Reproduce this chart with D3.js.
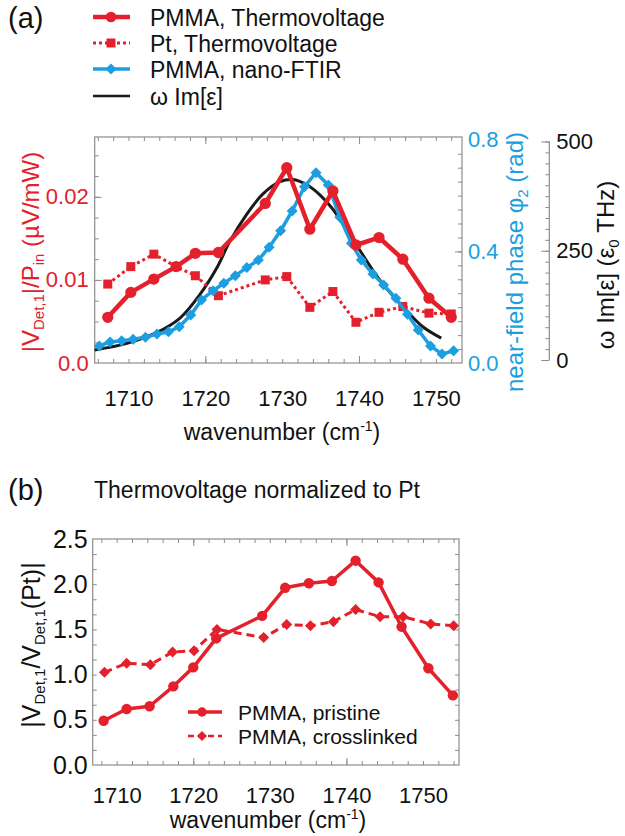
<!DOCTYPE html>
<html>
<head>
<meta charset="utf-8">
<script src="https://cdn.jsdelivr.net/npm/d3@7"></script>
<style>
  body { margin: 0; background: #fff; }
  svg { display: block; font-family: "Liberation Sans", Arial, sans-serif; }
</style>
</head>
<body>
<script>
// ---- panel (a) data ----
const wnTV = [1707.3, 1710.3, 1713.3, 1716.2, 1718.7, 1721.7, 1727.8, 1730.6, 1733.6, 1736.6, 1739.6, 1742.6, 1745.7, 1749.1, 1752.0];
const pmmaTV = [0.0055, 0.0085, 0.0101, 0.0116, 0.0132, 0.0133, 0.0192, 0.0235, 0.0161, 0.0207, 0.0142, 0.0151, 0.0125, 0.0078, 0.0055];
const ptTV = [0.0095, 0.0116, 0.0131, 0.0116, 0.0105, 0.0081, 0.0100, 0.0104, 0.0067, 0.0086, 0.0049, 0.0061, 0.0068, 0.0060, 0.0059];

const wnFTIR = [1706.2, 1707.6, 1709.1, 1710.6, 1712.2, 1713.7, 1715.2, 1716.6, 1718.1, 1719.5, 1721.0, 1722.4, 1723.9, 1725.4, 1726.9, 1728.3,
                1729.8, 1731.3, 1732.9, 1734.4, 1736.0, 1737.5, 1739.0, 1740.3, 1741.8, 1743.2, 1744.8, 1746.3, 1747.7, 1749.3, 1750.8, 1752.3];
const phaseFTIR = [0.061, 0.075, 0.080, 0.085, 0.092, 0.104, 0.112, 0.130, 0.172, 0.226, 0.259, 0.286, 0.313, 0.342, 0.369, 0.415,
                   0.474, 0.545, 0.632, 0.682, 0.638, 0.522, 0.429, 0.369, 0.319, 0.280, 0.232, 0.175, 0.118, 0.061, 0.032, 0.044];

const wnEps = [1705.6, 1709.8, 1713.7, 1716.7, 1719.3, 1721.5, 1723.2, 1725.4, 1727.5, 1729.7, 1731.4, 1733.2, 1734.9, 1736.6, 1739.7, 1742.7, 1745.7, 1748.3, 1750.7];
const omegaImEps = [23, 38, 63, 96, 150, 211, 272, 334, 380, 408, 413, 401, 378, 345, 262, 183, 122, 76, 50];

// ---- panel (b) data ----
const wnPristine = [1708.3, 1711.3, 1714.3, 1717.4, 1720.0, 1723.0, 1729.0, 1732.0, 1735.1, 1738.1, 1741.2, 1744.2, 1747.2, 1750.7, 1753.9];
const pristine = [0.49, 0.62, 0.65, 0.87, 1.08, 1.40, 1.65, 1.96, 2.01, 2.035, 2.26, 2.02, 1.53, 1.07, 0.77];
const wnCross = [1708.4, 1711.3, 1714.4, 1717.3, 1720.1, 1723.1, 1729.2, 1732.2, 1735.3, 1738.3, 1741.2, 1744.4, 1747.4, 1751.0, 1754.0];
const crosslinked = [1.025, 1.125, 1.11, 1.25, 1.265, 1.50, 1.41, 1.555, 1.54, 1.585, 1.72, 1.64, 1.64, 1.56, 1.54];

// tick labels
const xTickLabels = [1710, 1720, 1730, 1740, 1750];
const leftTicksA = [0, 0.01, 0.02];
const phaseTicks = [0, 0.4, 0.8];
const epsTicks = [0, 250, 500];
const ratioTicks = [0, 0.5, 1.0, 1.5, 2.0, 2.5];

const RED = "#e3202b", BLUE = "#1c9ee0", FRAME = "#8c8c8c";

const svg = d3.select("body").append("svg")
    .attr("width", 625)
    .attr("height", 836);

svg.append("rect").attr("width", 625).attr("height", 836).attr("fill", "#fff");

// inward tick marks (no labels)
function tickMarks(g, axisFn, scale, values, size) {
    g.call(axisFn(scale).tickValues(values).tickSize(size).tickFormat(""));
    g.select(".domain").remove();
    g.selectAll("line").attr("stroke", FRAME).attr("stroke-width", 1);
}

// labels only
function tickLabels(g, axisFn, scale, values, pad, fmt, color, size) {
    g.call(axisFn(scale).tickValues(values).tickSize(0).tickPadding(pad).tickFormat(fmt));
    g.select(".domain").remove();
    g.attr("font-family", null).attr("font-size", size);
    g.selectAll("text").attr("fill", color);
}

function diamond(r) {
    return `M0,${-r}L${r},0L0,${r}L${-r},0Z`;
}

function drawMarkers(g, xs, ys, x, y, shape, color) {
    g.append("g").selectAll("path")
        .data(xs.map((d, i) => [d, ys[i]]))
        .enter().append("path")
        .attr("transform", d => `translate(${x(d[0])},${y(d[1])})`)
        .attr("d", shape)
        .attr("fill", color);
}

// ================= panel (a) =================
const A = { left: 94.7, right: 462, top: 137, bottom: 363 };
const xA = d3.scaleLinear().domain([1705.6, 1753.4]).range([A.left, A.right]);
const yTV = d3.scaleLinear().domain([0, 0.0272]).range([A.bottom, A.top]);
const yPhase = d3.scaleLinear().domain([0, 0.81]).range([A.bottom, A.top]);
const yEps = d3.scaleLinear().domain([0, 500]).range([360, 141.5]);

const xMinor = d3.range(1706, 1754, 2);
const xMajor = [1720, 1740];

const gA = svg.append("g");

// frame
gA.append("rect")
    .attr("x", A.left).attr("y", A.top)
    .attr("width", A.right - A.left).attr("height", A.bottom - A.top)
    .attr("fill", "none").attr("stroke", FRAME).attr("stroke-width", 1.2);

tickMarks(gA.append("g").attr("transform", `translate(0,${A.bottom})`), d3.axisBottom, xA, xMinor.filter(d => xA(d) > A.left + 2 && xA(d) < A.right - 2), -4);
tickMarks(gA.append("g").attr("transform", `translate(0,${A.bottom})`), d3.axisBottom, xA, xMajor, -7);
tickMarks(gA.append("g").attr("transform", `translate(0,${A.top})`), d3.axisTop, xA, xMinor.filter(d => xA(d) > A.left + 2 && xA(d) < A.right - 2), -4);
tickMarks(gA.append("g").attr("transform", `translate(0,${A.top})`), d3.axisTop, xA, xMajor, -7);
tickMarks(gA.append("g").attr("transform", `translate(${A.left},0)`), d3.axisLeft, yTV, d3.range(0.0025, 0.027, 0.0025), -4);
tickMarks(gA.append("g").attr("transform", `translate(${A.left},0)`), d3.axisLeft, yTV, [0.01, 0.02], -7);
tickMarks(gA.append("g").attr("transform", `translate(${A.right},0)`), d3.axisRight, yPhase, d3.range(0.05, 0.80, 0.05), -4);
tickMarks(gA.append("g").attr("transform", `translate(${A.right},0)`), d3.axisRight, yPhase, [0.4], -7);

// black ω Im[ε] axis
gA.append("line")
    .attr("x1", 549.3).attr("x2", 549.3)
    .attr("y1", yEps(0)).attr("y2", yEps(500))
    .attr("stroke", FRAME).attr("stroke-width", 1.2);
tickMarks(gA.append("g").attr("transform", "translate(549.3,0)"), d3.axisLeft, yEps, d3.range(0, 501, 25), 4);
tickMarks(gA.append("g").attr("transform", "translate(549.3,0)"), d3.axisLeft, yEps, [0, 250, 500], 8);

// tick labels
tickLabels(gA.append("g").attr("transform", `translate(0,${A.bottom})`), d3.axisBottom, xA, xTickLabels, 27, d3.format("d"), "#111", 22);
tickLabels(gA.append("g").attr("transform", `translate(${A.left},0)`), d3.axisLeft, yTV, leftTicksA, 6, d => d === 0 ? "0.0" : d3.format(".2f")(d), RED, 22);
tickLabels(gA.append("g").attr("transform", `translate(${A.right},0)`), d3.axisRight, yPhase, phaseTicks, 6, d3.format(".1f"), BLUE, 22);
tickLabels(gA.append("g").attr("transform", "translate(549.3,0)"), d3.axisRight, yEps, epsTicks, 7, d3.format("d"), "#111", 22);

// curves
const plotA = gA.append("g");

plotA.append("path")
    .datum(wnEps.map((d, i) => [d, omegaImEps[i]]))
    .attr("fill", "none").attr("stroke", "#1a1a1a").attr("stroke-width", 3)
    .attr("d", d3.line().x(d => xA(d[0])).y(d => yEps(d[1])).curve(d3.curveCatmullRom));

plotA.append("path")
    .datum(wnTV.map((d, i) => [d, ptTV[i]]))
    .attr("fill", "none").attr("stroke", RED).attr("stroke-width", 3)
    .attr("stroke-dasharray", "3,3")
    .attr("d", d3.line().x(d => xA(d[0])).y(d => yTV(d[1])));
drawMarkers(plotA, wnTV, ptTV, xA, yTV, "M-4.5,-4.5h9v9h-9Z", RED);

plotA.append("path")
    .datum(wnFTIR.map((d, i) => [d, phaseFTIR[i]]))
    .attr("fill", "none").attr("stroke", BLUE).attr("stroke-width", 3.5)
    .attr("d", d3.line().x(d => xA(d[0])).y(d => yPhase(d[1])));
drawMarkers(plotA, wnFTIR, phaseFTIR, xA, yPhase, diamond(5.5), BLUE);

plotA.append("path")
    .datum(wnTV.map((d, i) => [d, pmmaTV[i]]))
    .attr("fill", "none").attr("stroke", RED).attr("stroke-width", 4.5)
    .attr("stroke-linejoin", "round")
    .attr("d", d3.line().x(d => xA(d[0])).y(d => yTV(d[1])));
drawMarkers(plotA, wnTV, pmmaTV, xA, yTV, d3.symbol(d3.symbolCircle, 100)(), RED);

// axis titles
const xTitleA = gA.append("text")
    .attr("x", 282).attr("y", 440)
    .attr("text-anchor", "middle").attr("font-size", 23).attr("fill", "#111");
xTitleA.append("tspan").text("wavenumber (cm");
xTitleA.append("tspan").attr("font-size", 14).attr("dy", -9).text("-1");
xTitleA.append("tspan").attr("dy", 9).text(")");

const yTitleA = gA.append("text")
    .attr("transform", "translate(39,252) rotate(-90)")
    .attr("text-anchor", "middle").attr("font-size", 24).attr("fill", RED);
yTitleA.append("tspan").text("|V");
yTitleA.append("tspan").attr("font-size", 15).attr("dy", 5).text("Det,1");
yTitleA.append("tspan").attr("dy", -5).text("|/P");
yTitleA.append("tspan").attr("font-size", 15).attr("dy", 5).text("in");
yTitleA.append("tspan").attr("dy", -5).text(" (\u00b5V/mW)");

const phaseTitle = gA.append("text")
    .attr("transform", "translate(523,262) rotate(-90)")
    .attr("text-anchor", "middle").attr("font-size", 24).attr("fill", BLUE);
phaseTitle.append("tspan").text("near-field phase \u03c6");
phaseTitle.append("tspan").attr("font-size", 15).attr("dy", 5).text("2");
phaseTitle.append("tspan").attr("dy", -5).text("  (rad)");

const epsTitle = gA.append("text")
    .attr("transform", "translate(614,265) rotate(-90)")
    .attr("text-anchor", "middle").attr("font-size", 24).attr("fill", "#111");
epsTitle.append("tspan").text("\u03c9 Im[\u03b5] (\u03b5");
epsTitle.append("tspan").attr("font-size", 15).attr("dy", 5).text("0");
epsTitle.append("tspan").attr("dy", -5).text(" THz)");

// panel label + legend
svg.append("text").attr("x", 8).attr("y", 28).attr("font-size", 29).attr("fill", "#111").text("(a)");

const legendA = [
    { label: "PMMA, Thermovoltage", color: RED, width: 4.5, dash: null, marker: d3.symbol(d3.symbolCircle, 90)() },
    { label: "Pt, Thermovoltage", color: RED, width: 3, dash: "3,3", marker: "M-4.5,-4.5h9v9h-9Z" },
    { label: "PMMA, nano-FTIR", color: BLUE, width: 3.5, dash: null, marker: diamond(5.5) },
    { label: "\u03c9 Im[\u03b5]", color: "#1a1a1a", width: 2.5, dash: null, marker: null }
];
const legendRowsA = [17, 43, 69, 96];
legendA.forEach((d, i) => {
    const row = svg.append("g").attr("transform", `translate(0,${legendRowsA[i]})`);
    row.append("line").attr("x1", 93).attr("x2", 130)
        .attr("stroke", d.color).attr("stroke-width", d.width)
        .attr("stroke-dasharray", d.dash);
    if (d.marker) row.append("path").attr("transform", "translate(111,0)").attr("d", d.marker).attr("fill", d.color);
    row.append("text").attr("x", 150).attr("y", 8.5).attr("font-size", 23).attr("fill", "#111").text(d.label);
});

// ================= panel (b) =================
const B = { left: 92.7, right: 459, top: 539, bottom: 765 };
const xB = d3.scaleLinear().domain([1706.87, 1754.7]).range([B.left, B.right]);
const yB = d3.scaleLinear().domain([0, 2.5]).range([B.bottom, B.top]);

const gB = svg.append("g");
gB.append("rect")
    .attr("x", B.left).attr("y", B.top)
    .attr("width", B.right - B.left).attr("height", B.bottom - B.top)
    .attr("fill", "none").attr("stroke", FRAME).attr("stroke-width", 1.2);

const xMinorB = d3.range(1708, 1755, 2).filter(d => xB(d) > B.left + 2 && xB(d) < B.right - 2);
const yMinorB = d3.range(1, 15).map(k => k * 0.5 / 3);
tickMarks(gB.append("g").attr("transform", `translate(0,${B.bottom})`), d3.axisBottom, xB, xMinorB, -4);
tickMarks(gB.append("g").attr("transform", `translate(0,${B.bottom})`), d3.axisBottom, xB, xMajor, -7);
tickMarks(gB.append("g").attr("transform", `translate(0,${B.top})`), d3.axisTop, xB, xMinorB, -4);
tickMarks(gB.append("g").attr("transform", `translate(0,${B.top})`), d3.axisTop, xB, xMajor, -7);
tickMarks(gB.append("g").attr("transform", `translate(${B.left},0)`), d3.axisLeft, yB, yMinorB, -4);
tickMarks(gB.append("g").attr("transform", `translate(${B.right},0)`), d3.axisRight, yB, yMinorB, -4);

tickLabels(gB.append("g").attr("transform", `translate(0,${B.bottom})`), d3.axisBottom, xB, xTickLabels, 22, d3.format("d"), "#111", 22);
tickLabels(gB.append("g").attr("transform", `translate(${B.left},0)`), d3.axisLeft, yB, ratioTicks, 5, d3.format(".1f"), "#111", 25);

const plotB = gB.append("g");
plotB.append("path")
    .datum(wnCross.map((d, i) => [d, crosslinked[i]]))
    .attr("fill", "none").attr("stroke", RED).attr("stroke-width", 3)
    .attr("stroke-dasharray", "8,5")
    .attr("d", d3.line().x(d => xB(d[0])).y(d => yB(d[1])));
drawMarkers(plotB, wnCross, crosslinked, xB, yB, diamond(5.5), RED);

plotB.append("path")
    .datum(wnPristine.map((d, i) => [d, pristine[i]]))
    .attr("fill", "none").attr("stroke", RED).attr("stroke-width", 3.5)
    .attr("stroke-linejoin", "round")
    .attr("d", d3.line().x(d => xB(d[0])).y(d => yB(d[1])));
drawMarkers(plotB, wnPristine, pristine, xB, yB, d3.symbol(d3.symbolCircle, 85)(), RED);

const xTitleB = gB.append("text")
    .attr("x", 268).attr("y", 828)
    .attr("text-anchor", "middle").attr("font-size", 23).attr("fill", "#111");
xTitleB.append("tspan").text("wavenumber (cm");
xTitleB.append("tspan").attr("font-size", 14).attr("dy", -9).text("-1");
xTitleB.append("tspan").attr("dy", 9).text(")");

const yTitleB = gB.append("text")
    .attr("transform", "translate(40,645) rotate(-90)")
    .attr("text-anchor", "middle").attr("font-size", 25).attr("fill", "#111");
yTitleB.append("tspan").text("|V");
yTitleB.append("tspan").attr("font-size", 15).attr("dy", 5).text("Det,1");
yTitleB.append("tspan").attr("dy", -5).text("/V");
yTitleB.append("tspan").attr("font-size", 15).attr("dy", 5).text("Det,1");
yTitleB.append("tspan").attr("dy", -5).text("(Pt)|");

svg.append("text").attr("x", 8).attr("y", 500).attr("font-size", 29).attr("fill", "#111").text("(b)");
svg.append("text").attr("x", 94).attr("y", 498).attr("font-size", 23).attr("fill", "#111").text("Thermovoltage normalized to Pt");

const legendB = [
    { label: "PMMA, pristine", dash: null, width: 3.5, marker: d3.symbol(d3.symbolCircle, 70)() },
    { label: "PMMA, crosslinked", dash: "6,4", width: 2.5, marker: diamond(5) }
];
const legendRowsB = [712, 736];
legendB.forEach((d, i) => {
    const row = svg.append("g").attr("transform", `translate(0,${legendRowsB[i]})`);
    row.append("line").attr("x1", 188).attr("x2", 222)
        .attr("stroke", RED).attr("stroke-width", d.width)
        .attr("stroke-dasharray", d.dash);
    row.append("path").attr("transform", "translate(202,0)").attr("d", d.marker).attr("fill", RED);
    row.append("text").attr("x", 238).attr("y", 7.5).attr("font-size", 21).attr("fill", "#111").text(d.label);
});
</script>
</body>
</html>
